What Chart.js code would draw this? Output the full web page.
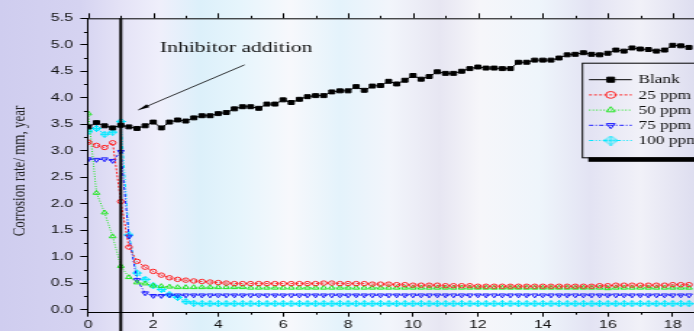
<!DOCTYPE html>
<html>
<head>
<meta charset="utf-8">
<script src="https://cdn.jsdelivr.net/npm/chart.js@4.4.1/dist/chart.umd.min.js"></script>
<style>
  html, body { margin: 0; padding: 0; }
  body {
    width: 694px; height: 331px; overflow: hidden;
    background: linear-gradient(90deg, #cfcdef 0px, #d5d3f1 80px, #e4e2f6 120px, #efeffb 160px,
      #dcf0fa 200px, #e6f5fc 240px, #f7f8fc 290px, #e4f3fb 340px, #f2f5fb 390px, #e7e6f2 440px,
      #f6f6fa 480px, #eef5fb 540px, #e3e3f3 590px, #f1f1f8 640px, #dedef0 694px);
  }
  #wrap { width: 530px; height: 331px; transform: scaleX(1.45); transform-origin: 0 0; }
</style>
</head>
<body>
<div id="wrap"><canvas id="corrosion" width="530" height="331"></canvas></div>
<script>
// time in hours
const time = [0, 0.25, 0.5, 0.75, 1, 1.25, 1.5, 1.75, 2, 2.25,
  2.5, 2.75, 3, 3.25, 3.5, 3.75, 4, 4.25, 4.5, 4.75,
  5, 5.25, 5.5, 5.75, 6, 6.25, 6.5, 6.75, 7, 7.25,
  7.5, 7.75, 8, 8.25, 8.5, 8.75, 9, 9.25, 9.5, 9.75,
  10, 10.25, 10.5, 10.75, 11, 11.25, 11.5, 11.75, 12, 12.25,
  12.5, 12.75, 13, 13.25, 13.5, 13.75, 14, 14.25, 14.5, 14.75,
  15, 15.25, 15.5, 15.75, 16, 16.25, 16.5, 16.75, 17, 17.25,
  17.5, 17.75, 18, 18.25, 18.5];

// corrosion rate, mm/year
const blank = [3.45, 3.53, 3.47, 3.43, 3.48, 3.45, 3.42, 3.47, 3.54, 3.43,
  3.54, 3.58, 3.56, 3.62, 3.66, 3.66, 3.70, 3.72, 3.79, 3.83,
  3.83, 3.80, 3.88, 3.88, 3.96, 3.91, 3.97, 4.02, 4.04, 4.04,
  4.11, 4.13, 4.13, 4.21, 4.14, 4.22, 4.23, 4.31, 4.26, 4.33,
  4.42, 4.35, 4.40, 4.49, 4.46, 4.46, 4.50, 4.55, 4.58, 4.56,
  4.56, 4.55, 4.55, 4.67, 4.67, 4.71, 4.71, 4.71, 4.75, 4.81,
  4.82, 4.85, 4.82, 4.81, 4.84, 4.90, 4.88, 4.94, 4.92, 4.91,
  4.88, 4.90, 4.99, 4.98, 4.95];
const ppm25 = [3.16, 3.10, 3.06, 3.15, 2.04, 1.18, 0.91, 0.80, 0.72, 0.65,
  0.60, 0.57, 0.555, 0.54, 0.53, 0.52, 0.51, 0.50, 0.49, 0.49,
  0.49, 0.49, 0.49, 0.49, 0.49, 0.49, 0.49, 0.49, 0.49, 0.50,
  0.50, 0.49, 0.49, 0.49, 0.49, 0.48, 0.48, 0.48, 0.47, 0.47,
  0.46, 0.46, 0.46, 0.46, 0.45, 0.45, 0.45, 0.45, 0.44, 0.44,
  0.44, 0.44, 0.44, 0.44, 0.44, 0.44, 0.44, 0.44, 0.44, 0.44,
  0.44, 0.44, 0.44, 0.45, 0.45, 0.46, 0.46, 0.46, 0.46, 0.46,
  0.46, 0.46, 0.47, 0.47, 0.47];
const ppm50 = [3.70, 2.20, 1.83, 1.38, 0.82, 0.61, 0.51, 0.49, 0.45, 0.44,
  0.43, 0.42, 0.42, 0.42, 0.42, 0.42, 0.42, 0.42, 0.42, 0.42,
  0.41, 0.41, 0.41, 0.41, 0.41, 0.41, 0.41, 0.41, 0.41, 0.41,
  0.41, 0.41, 0.41, 0.41, 0.41, 0.41, 0.41, 0.41, 0.41, 0.41,
  0.41, 0.41, 0.41, 0.41, 0.41, 0.41, 0.41, 0.41, 0.41, 0.41,
  0.41, 0.41, 0.41, 0.41, 0.41, 0.41, 0.41, 0.41, 0.41, 0.41,
  0.41, 0.41, 0.41, 0.41, 0.40, 0.41, 0.41, 0.41, 0.41, 0.41,
  0.41, 0.41, 0.41, 0.41, 0.41];
const ppm75 = [2.84, 2.83, 2.84, 2.81, 2.98, 1.38, 0.56, 0.31, 0.26, 0.26,
  0.27, 0.27, 0.27, 0.27, 0.27, 0.27, 0.27, 0.27, 0.27, 0.27,
  0.27, 0.27, 0.27, 0.27, 0.27, 0.27, 0.27, 0.27, 0.27, 0.27,
  0.27, 0.27, 0.27, 0.27, 0.27, 0.27, 0.27, 0.27, 0.27, 0.27,
  0.27, 0.27, 0.27, 0.27, 0.27, 0.27, 0.27, 0.27, 0.27, 0.27,
  0.27, 0.27, 0.27, 0.27, 0.27, 0.27, 0.27, 0.27, 0.27, 0.27,
  0.27, 0.27, 0.27, 0.27, 0.27, 0.27, 0.27, 0.27, 0.27, 0.27,
  0.27, 0.27, 0.27, 0.27, 0.27];
const ppm100 = [3.36, 3.42, 3.31, 3.35, 3.55, 1.41, 0.69, 0.57, 0.45, 0.38,
  0.28, 0.23, 0.15, 0.12, 0.11, 0.11, 0.11, 0.11, 0.11, 0.11,
  0.11, 0.11, 0.11, 0.11, 0.11, 0.11, 0.11, 0.11, 0.11, 0.11,
  0.11, 0.11, 0.11, 0.11, 0.11, 0.11, 0.11, 0.11, 0.11, 0.11,
  0.11, 0.11, 0.11, 0.11, 0.11, 0.11, 0.11, 0.11, 0.11, 0.11,
  0.11, 0.11, 0.11, 0.11, 0.11, 0.11, 0.11, 0.11, 0.11, 0.11,
  0.11, 0.11, 0.11, 0.11, 0.11, 0.11, 0.11, 0.11, 0.11, 0.11,
  0.11, 0.11, 0.11, 0.11, 0.11];

// axis ticks
const xTicks = [0, 2, 4, 6, 8, 10, 12, 14, 16, 18];
const xMinor = [1, 3, 5, 7, 9, 11, 13, 15, 17, 19];
const yTicks = [0, 0.5, 1, 1.5, 2, 2.5, 3, 3.5, 4, 4.5, 5, 5.5];
const yMinor = [0.25, 0.75, 1.25, 1.75, 2.25, 2.75, 3.25, 3.75, 4.25, 4.75, 5.25];
const inhibitorTime = 1;

// cyan marker: diamond with a cross
function crossMarker(size, color) {
  const c = document.createElement('canvas');
  c.width = size; c.height = size;
  const g = c.getContext('2d');
  const m = size / 2;
  g.strokeStyle = color; g.lineWidth = 1;
  g.beginPath();
  g.moveTo(m, 0.5); g.lineTo(size - 0.5, m); g.lineTo(m, size - 0.5); g.lineTo(0.5, m); g.closePath();
  g.moveTo(m, 0); g.lineTo(m, size);
  g.moveTo(0, m); g.lineTo(size, m);
  g.stroke();
  return c;
}
const cyanSmall = crossMarker(7, '#00e8ff');
const cyanBig = crossMarker(10, '#00e8ff');

const pts = arr => time.map((t, i) => ({ x: t, y: arr[i] }));

const data = {
  datasets: [
    { label: 'Blank', data: pts(blank), borderColor: '#000', backgroundColor: '#000',
      borderWidth: 1, pointStyle: 'rect', pointRadius: 2.8, pointBorderWidth: 1 },
    { label: '25 ppm', data: pts(ppm25), borderColor: '#ff2020', backgroundColor: 'rgba(0,0,0,0)',
      borderWidth: 1, borderDash: [2, 1.5], pointStyle: 'circle', pointRadius: 2.2, pointBorderWidth: 1 },
    { label: '50 ppm', data: pts(ppm50), borderColor: '#22e622', backgroundColor: 'rgba(0,0,0,0)',
      borderWidth: 1, borderDash: [1, 1.5], pointStyle: 'triangle', pointRadius: 2.6, pointBorderWidth: 1 },
    { label: '75 ppm', data: pts(ppm75), borderColor: '#1a1aff', backgroundColor: 'rgba(0,0,0,0)',
      borderWidth: 1, borderDash: [3, 1.5, 1, 1.5], pointStyle: 'triangle', pointRotation: 180,
      pointRadius: 2.6, pointBorderWidth: 1 },
    { label: '100 ppm', data: pts(ppm100), borderColor: '#00e8ff', backgroundColor: 'rgba(0,0,0,0)',
      borderWidth: 1, borderDash: [3, 1.5, 1, 1.5, 1, 1.5], pointStyle: cyanSmall, pointRadius: 3 }
  ]
};

// frame, minor ticks, inhibitor line, annotation, legend and y title
const extras = {
  id: 'extras',
  afterDatasetsDraw(chart) {
    const { ctx, chartArea: a, scales: { x, y } } = chart;
    ctx.save();
    ctx.strokeStyle = '#000';
    ctx.lineWidth = 1;
    ctx.beginPath();
    ctx.moveTo(a.left, a.top + 0.5); ctx.lineTo(a.right, a.top + 0.5);
    xTicks.concat(xMinor).forEach(v => {
      const px = Math.round(x.getPixelForValue(v)) + 0.5;
      const len = xTicks.includes(v) ? 5 : 2.5;
      ctx.moveTo(px, a.top); ctx.lineTo(px, a.top - len);
    });
    xMinor.forEach(v => {
      const px = Math.round(x.getPixelForValue(v)) + 0.5;
      ctx.moveTo(px, a.bottom); ctx.lineTo(px, a.bottom + 2.5);
    });
    yMinor.forEach(v => {
      const py = Math.round(y.getPixelForValue(v)) + 0.5;
      ctx.moveTo(a.left, py); ctx.lineTo(a.left - 3, py);
    });
    ctx.stroke();

    // inhibitor addition line
    const ix = x.getPixelForValue(inhibitorTime);
    ctx.lineWidth = 2;
    ctx.beginPath();
    ctx.moveTo(ix, a.top); ctx.lineTo(ix, chart.height);
    ctx.stroke();

    // annotation
    ctx.fillStyle = '#111';
    ctx.font = '15px "Liberation Serif"';
    ctx.textBaseline = 'alphabetic';
    ctx.fillText('Inhibitor addition', x.getPixelForValue(2.2), y.getPixelForValue(4.86));
    const x0 = x.getPixelForValue(4.81), y0 = y.getPixelForValue(4.62);
    const x1 = x.getPixelForValue(1.54), y1 = y.getPixelForValue(3.77);
    ctx.lineWidth = 0.8;
    ctx.beginPath(); ctx.moveTo(x0, y0); ctx.lineTo(x1, y1); ctx.stroke();
    const ang = Math.atan2(y1 - y0, x1 - x0);
    ctx.beginPath();
    ctx.moveTo(x1, y1);
    ctx.lineTo(x1 - 8 * Math.cos(ang - 0.22), y1 - 8 * Math.sin(ang - 0.22));
    ctx.lineTo(x1 - 8 * Math.cos(ang + 0.22), y1 - 8 * Math.sin(ang + 0.22));
    ctx.closePath();
    ctx.fillStyle = '#000';
    ctx.fill();

    // legend box
    const bx = 401.2, by = 62.7, bh = 94.6;
    ctx.fillStyle = '#000';
    ctx.fillRect(bx + 4.5, by + bh, 120, 4.5);
    ctx.lineWidth = 1;
    ctx.strokeStyle = '#000';
    ctx.strokeRect(bx + 0.5, by + 0.5, 120, bh);
    ctx.font = '12px "Liberation Serif"';
    ctx.textBaseline = 'middle';
    chart.data.datasets.forEach((ds, i) => {
      const ry = 79.7 + i * 15.2;
      ctx.strokeStyle = ds.borderColor;
      ctx.lineWidth = 1;
      ctx.setLineDash(ds.borderDash || []);
      ctx.beginPath(); ctx.moveTo(406.2, ry); ctx.lineTo(435.7, ry); ctx.stroke();
      ctx.setLineDash([]);
      ctx.fillStyle = ds.backgroundColor;
      const style = ds.pointStyle === cyanSmall ? cyanBig : ds.pointStyle;
      Chart.helpers.drawPoint(ctx, { pointStyle: style, rotation: ds.pointRotation || 0,
        radius: ds.pointStyle === 'rect' ? 3.6 : 3.4, borderWidth: 1 }, 421.2, ry);
      ctx.fillStyle = '#111';
      ctx.fillText(ds.label, 440.2, ry + 0.5);
    });

    // y axis title
    ctx.translate(13.1, 171);
    ctx.rotate(-Math.PI / 2);
    ctx.font = '13px "Liberation Serif"';
    ctx.textAlign = 'center';
    ctx.fillStyle = '#222';
    ctx.fillText('Corrosion rate/ mm, year', 0, 0);
    ctx.restore();
  }
};

const tickFont = { family: '"Liberation Sans", Arial, sans-serif', size: 11 };

const config = {
  type: 'line',
  data,
  options: {
    responsive: false,
    animation: false,
    devicePixelRatio: 1,
    layout: { padding: { top: 18.3, right: 21.3, left: 0, bottom: 0 } },
    plugins: { legend: { display: false }, tooltip: { enabled: false } },
    elements: { line: { tension: 0 } },
    scales: {
      x: {
        type: 'linear', min: 0, max: 20,
        afterBuildTicks: s => { s.ticks = xTicks.map(v => ({ value: v })); },
        afterFit: s => { s.height = 18.8; },
        ticks: { font: tickFont, color: '#111', padding: 2, maxRotation: 0, callback: v => String(v) },
        grid: { drawOnChartArea: false, color: '#000', tickLength: 4.5 },
        border: { color: '#000', width: 1 }
      },
      y: {
        min: -0.05, max: 5.5,
        afterBuildTicks: s => { s.ticks = yTicks.map(v => ({ value: v })); },
        afterFit: s => { s.width = 60.9; },
        ticks: { font: tickFont, color: '#111', padding: 5, callback: v => v.toFixed(1) },
        grid: { drawOnChartArea: false, color: '#000', tickLength: 5.5 },
        border: { color: '#000', width: 1 }
      }
    }
  },
  plugins: [extras]
};

const corrosionChart = new Chart(document.getElementById('corrosion'), config);
</script>
</body>
</html>
